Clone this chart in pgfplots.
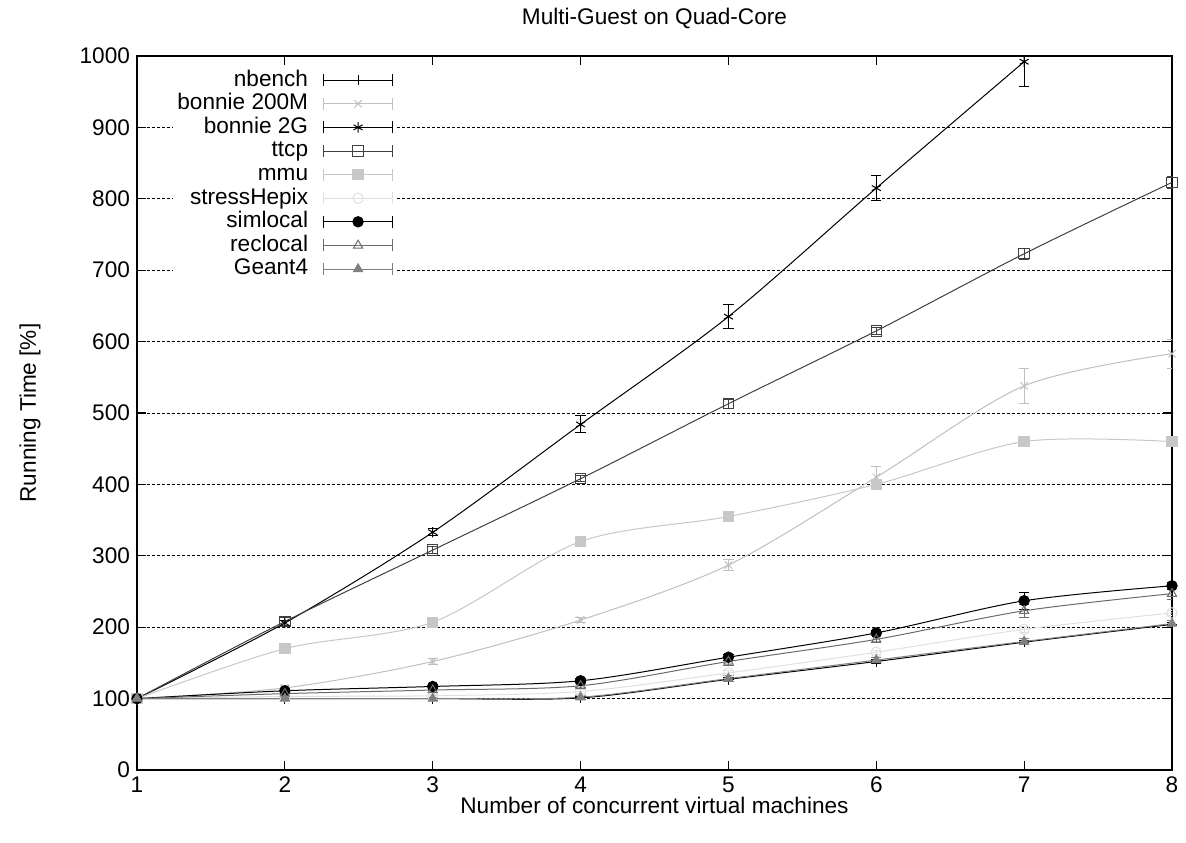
\documentclass[border=0pt]{standalone}
\usepackage{pgfplots}
\pgfplotsset{compat=1.18}
\usepackage{fontspec}
\setmainfont{Liberation Sans}

\definecolor{cBonnieS}{gray}{0.75}
\definecolor{cTtcp}{gray}{0.25}
\definecolor{cMmu}{gray}{0.78}
\definecolor{cHepix}{gray}{0.88}
\definecolor{cRec}{gray}{0.42}
\definecolor{cGeant}{gray}{0.5}

\begin{document}
\begin{tikzpicture}
\begin{axis}[
  name=ax,
  scale only axis,
  width=517.5pt, height=357pt,
  xmin=1, xmax=8, ymin=0, ymax=1000,
  xtick={1,...,8}, ytick={0,100,...,1000},
  font=\fontsize{11.3}{13.5}\selectfont,
  /pgf/number format/assume math mode=true,
  /pgf/number format/1000 sep={},
  axis line style={line width=0.6pt},
  tick style={black, line width=0.6pt},
  major tick length=4.5pt,
  ymajorgrids,
  major grid style={black, line width=0.5pt, dash pattern=on 1.5pt off 1pt},
  every axis title shift=0pt,
  title={Multi-Guest on Quad-Core},
  title style={at={(axis description cs:0.5,1.053)}, anchor=center, yshift=0pt},
  xlabel={Number of concurrent virtual machines},
  xlabel style={at={(axis description cs:0.5,-0.05)}, anchor=center},
  ylabel={Running Time [\%]},
  ylabel style={at={(axis description cs:-0.1034,0.5)}, anchor=center},
  every axis plot/.append style={line width=0.5pt, smooth, mark size=2.6pt, mark options={solid},
    error bars/y dir=both, error bars/y explicit,
    error bars/error bar style={line width=0.5pt},
    error bars/error mark options={line width=0.5pt, mark size=2.6pt, rotate=90}},
  legend plot pos=right,
  legend cell align=right,
  legend style={at={(axis description cs:0,1)}, anchor=north west, xshift=18pt, yshift=-4.5pt,
    draw=none, fill=white, inner sep=2pt, row sep=1pt, column sep=7.5pt,
    nodes={inner sep=0pt, text height=8.3pt, text depth=2.5pt}},
  legend image code/.code={
    \draw[#1,sharp plot,mark=none] (0pt,0pt) -- (34.5pt,0pt);
    \draw[#1,sharp plot,mark=none] (0pt,-3pt) -- (0pt,3pt) (34.5pt,-3pt) -- (34.5pt,3pt);
    \draw[#1,sharp plot] plot coordinates {(17.25pt,0pt)};
  },
]
\addplot[black, mark=+] coordinates {
  (1,100) +- (0,2) (2,100) +- (0,2) (3,100) +- (0,2) (4,101) +- (0,2)
  (5,127) +- (0,3) (6,152) +- (0,3) (7,179) +- (0,3) (8,204) +- (0,3)
};
\addlegendentry{nbench}
\addplot[cBonnieS, mark=x] coordinates {
  (1,100) +- (0,2) (2,115) +- (0,3) (3,152) +- (0,4) (4,210) +- (0,4)
  (5,287) +- (0,8) (6,410) +- (0,15) (7,538) +- (0,25) (8,583) +- (0,20)
};
\addlegendentry{bonnie 200M}
\addplot[black, mark=asterisk] coordinates {
  (1,100) +- (0,2) (2,206) +- (0,4) (3,333) +- (0,5) (4,484) +- (0,12)
  (5,635) +- (0,17) (6,815) +- (0,18) (7,992) +- (0,35)
};
\addlegendentry{bonnie 2G}
\addplot[cTtcp, mark=square] coordinates {
  (1,100) +- (0,2) (2,208) +- (0,5) (3,308) +- (0,5) (4,408) +- (0,4)
  (5,513) +- (0,6) (6,615) +- (0,5) (7,723) +- (0,8) (8,823) +- (0,8)
};
\addlegendentry{ttcp}
\addplot[cMmu, mark=square*] coordinates {
  (1,100) +- (0,1) (2,170) +- (0,2) (3,207) +- (0,2) (4,320) +- (0,2)
  (5,355) +- (0,2) (6,400) +- (0,3) (7,460) +- (0,3) (8,460) +- (0,3)
};
\addlegendentry{mmu}
\addplot[cHepix, mark=o] coordinates {
  (1,100) +- (0,2) (2,103) +- (0,2) (3,104) +- (0,2) (4,110) +- (0,3)
  (5,136) +- (0,3) (6,165) +- (0,3) (7,197) +- (0,4) (8,220) +- (0,4)
};
\addlegendentry{stressHepix}
\addplot[black, mark=*] coordinates {
  (1,100) +- (0,2) (2,111) +- (0,3) (3,117) +- (0,3) (4,125) +- (0,3)
  (5,158) +- (0,4) (6,192) +- (0,4) (7,237) +- (0,12) (8,258) +- (0,5)
};
\addlegendentry{simlocal}
\addplot[cRec, mark=triangle] coordinates {
  (1,100) +- (0,2) (2,107) +- (0,3) (3,112) +- (0,3) (4,118) +- (0,3)
  (5,152) +- (0,5) (6,183) +- (0,5) (7,223) +- (0,9) (8,247) +- (0,8)
};
\addlegendentry{reclocal}
\addplot[cGeant, mark=triangle*] coordinates {
  (1,100) +- (0,2) (2,100) +- (0,2) (3,100) +- (0,2) (4,102) +- (0,3)
  (5,128) +- (0,4) (6,154) +- (0,4) (7,180) +- (0,4) (8,205) +- (0,4)
};
\addlegendentry{Geant4}
\end{axis}
\pgfresetboundingbox
\path (ax.south west) ++(-68.5pt,-36pt) rectangle ([shift={(7pt,28pt)}]ax.north east);
\end{tikzpicture}
\end{document}
